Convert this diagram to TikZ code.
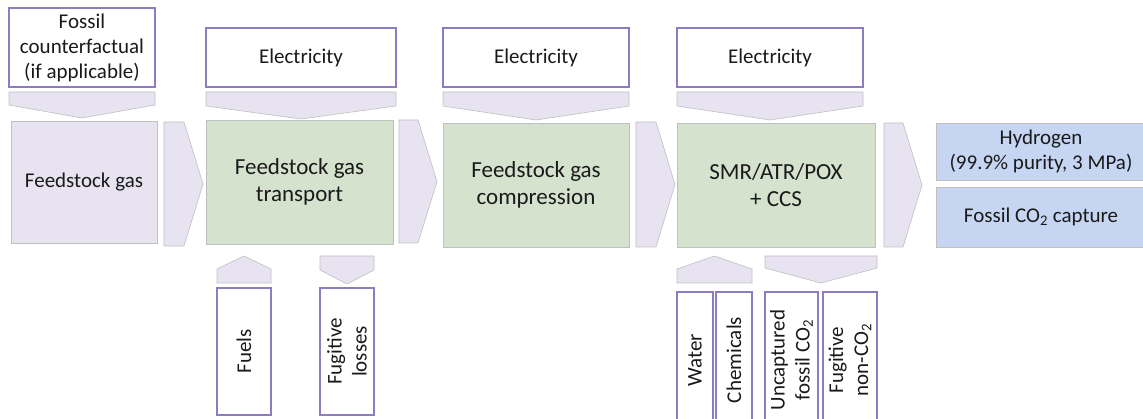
\documentclass[tikz,border=0pt]{standalone}
\usepackage{fontspec}
\setmainfont{Carlito}
\definecolor{inline}{HTML}{8E7CC3}
\definecolor{grayline}{HTML}{C0C0C0}
\definecolor{lavender}{HTML}{E7E3F0}
\definecolor{procgreen}{HTML}{D4E2CE}
\definecolor{outblue}{HTML}{C6D5F1}
\definecolor{txt}{HTML}{1A1A1A}
\tikzset{
  inbox/.style={draw=inline, fill=white, line width=1.5pt, inner sep=0pt, align=center,
    text=txt, font=\fontsize{21}{25}\selectfont},
  sidebox/.style={inbox, rotate=90},
  feedbox/.style={draw=grayline, fill=lavender, line width=0.8pt, inner sep=0pt, align=center,
    text=txt, font=\fontsize{21}{25}\selectfont},
  procbox/.style={feedbox, fill=procgreen, font=\fontsize{23}{27}\selectfont},
  outbox/.style={feedbox, fill=outblue},
  chev/.style={draw=grayline, fill=lavender, line width=0.6pt}
}
% arrow shapes: right, down and up
\newcommand{\chevR}[4]{\filldraw[chev] (#1,#2) -- ({#3-19},#2) -- (#3,{(#2+#4)/2}) -- ({#3-19},#4) -- (#1,#4) -- cycle;}
\newcommand{\chevD}[5]{\filldraw[chev] (#1,#3) -- (#2,#3) -- (#2,#4) -- ({(#1+#2)/2},#5) -- (#1,#4) -- cycle;}
\newcommand{\chevU}[5]{\filldraw[chev] (#1,#5) -- (#2,#5) -- (#2,#4) -- ({(#1+#2)/2},#3) -- (#1,#4) -- cycle;}
\begin{document}
\begin{tikzpicture}[x=1pt,y=-1pt]
    \useasboundingbox (0,0) rectangle (1143,419);
    \clip (0,0) rectangle (1143,419);
    % inputs on top
    \node[inbox, minimum width=146, minimum height=79] (fossil) at (82,47.5) {Fossil\\counterfactual\\(if applicable)};
    \node[inbox, minimum width=190, minimum height=59] (elecA) at (301,57.5) {Electricity};
    \node[inbox, minimum width=186, minimum height=59] (elecB) at (536,57.5) {Electricity};
    \node[inbox, minimum width=186, minimum height=59] (elecC) at (770,57.5) {Electricity};
    \chevD{9}{155}{92}{105}{118}
    \chevD{206}{396}{92}{106}{119}
    \chevD{443}{629}{92}{106}{120}
    \chevD{677}{863}{92}{106}{120}
    % main chain
    \node[feedbox, minimum width=146, minimum height=122] (feed) at (84,182) {Feedstock gas};
    \node[procbox, minimum width=187, minimum height=124] (trans) at (299.5,182) {Feedstock gas\\transport};
    \node[procbox, minimum width=186, minimum height=124] (comp) at (536,185) {Feedstock gas\\compression};
    \node[procbox, minimum width=198, minimum height=124] (smr) at (776,185) {SMR/ATR/POX\\+ CCS};
    \node[outbox, minimum width=210, minimum height=57] (hyd) at (1041,151.5) {Hydrogen\\(99.9\% purity, 3 MPa)};
    \node[outbox, minimum width=210, minimum height=60] (cap) at (1041,217) {Fossil CO\textsubscript{2} capture};
    \chevR{164}{122}{203}{246}
    \chevR{399}{120}{437}{243}
    \chevR{636}{122}{675}{247}
    \chevR{884}{123}{922}{247}
    % inputs and emissions below
    \chevU{217}{271}{256}{269}{283}
    \chevD{320}{374}{256}{270}{284}
    \chevU{677}{752}{256}{269}{283}
    \chevD{765}{877}{256}{268}{283}
    \node[sidebox, minimum width=127, minimum height=54] (fuels) at (244,351.5) {Fuels};
    \node[sidebox, minimum width=127, minimum height=54] (fugloss) at (347,351.5) {Fugitive\\losses};
    \node[sidebox, minimum width=136, minimum height=36] (water) at (695,360) {Water};
    \node[sidebox, minimum width=136, minimum height=36] (chem) at (734,360) {Chemicals};
    \node[sidebox, minimum width=136, minimum height=53] (uncap) at (791.5,360) {Uncaptured\\fossil CO\textsubscript{2}};
    \node[sidebox, minimum width=136, minimum height=54] (fugnon) at (850,360) {Fugitive\\non-CO\textsubscript{2}};
\end{tikzpicture}
\end{document}
